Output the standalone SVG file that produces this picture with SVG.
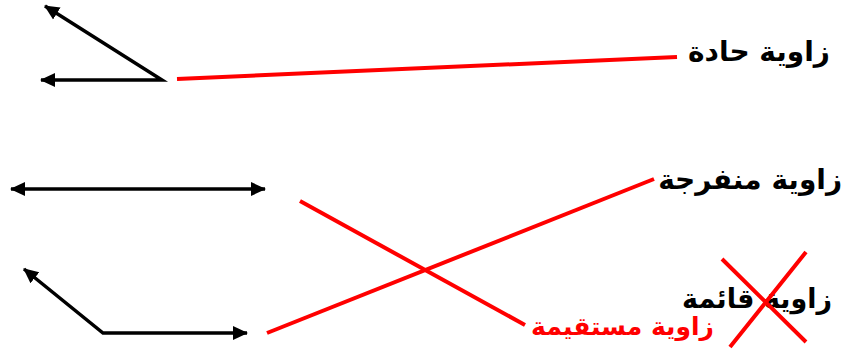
<svg xmlns="http://www.w3.org/2000/svg" width="852" height="359" viewBox="0 0 852 359">
<style>
.ang{fill:none;stroke:#000;stroke-width:3.5;stroke-linejoin:miter}
.red{stroke:#ff0000;stroke-width:4;fill:none}
.lbl{font-family:"DejaVu Sans","Noto Sans",sans-serif;font-weight:bold;font-size:28px;text-anchor:end}
</style>
<defs>
<marker id="ah" markerWidth="16" markerHeight="16" refX="14" refY="8" orient="auto-start-reverse" markerUnits="userSpaceOnUse">
<path d="M0,1 L15,8 L0,15 Z" fill="#000"/>
</marker>
</defs>
<rect width="852" height="359" fill="#fff"/>
<g id="acute-angle">
<path class="ang" d="M45,6 L162,80 L41,80" marker-start="url(#ah)" marker-end="url(#ah)"/>
</g>
<g id="straight-angle">
<path class="ang" d="M11,189 L265,189" marker-start="url(#ah)" marker-end="url(#ah)"/>
</g>
<g id="obtuse-angle">
<path class="ang" d="M24,269 L103,333 L247,333" marker-start="url(#ah)" marker-end="url(#ah)"/>
</g>
<g id="label-acute">
<text class="lbl" x="830" y="61">زاوية حادة</text>
</g>
<g id="label-obtuse">
<text class="lbl" x="842" y="189">زاوية منفرجة</text>
</g>
<g id="label-right">
<text class="lbl" x="832" y="308" style="font-size:27px">زاوية قائمة</text>
<path class="red" d="M722,259 L806,342 M806,252 L730,347"/>
</g>
<g id="label-straight">
<text class="lbl" x="714" y="335" fill="#ff0000" style="font-size:25px">زاوية مستقيمة</text>
</g>
<g id="connectors">
<line class="red" x1="177" y1="79" x2="677" y2="57"/>
<line class="red" x1="300" y1="201" x2="525" y2="325"/>
<line class="red" x1="267" y1="333" x2="654" y2="179"/>
</g>
</svg>
